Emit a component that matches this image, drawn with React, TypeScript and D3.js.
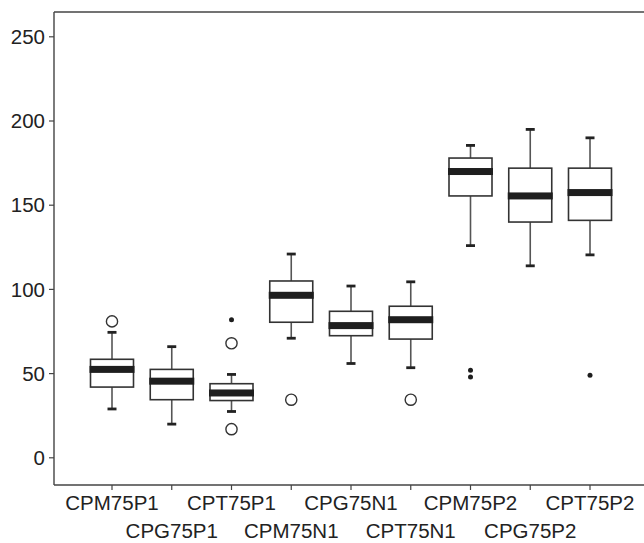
import React from 'react';
import * as d3 from 'd3';

// groups, in plotting order
const categories = ['CPM75P1', 'CPG75P1', 'CPT75P1', 'CPM75N1', 'CPG75N1', 'CPT75N1', 'CPM75P2', 'CPG75P2', 'CPT75P2'];

// five-number summaries
const lowerWhisker = [29, 20, 27.5, 71, 56, 53.5, 126, 114, 120.5];
const q1 = [42, 34.5, 34, 80.5, 72.5, 70.5, 155.5, 140, 141];
const medians = [52.5, 45.5, 38.5, 96.5, 78.5, 82, 170, 155.5, 157.5];
const q3 = [58.5, 52.5, 44, 105, 87, 90, 178, 172, 172];
const upperWhisker = [74.5, 66, 49.5, 121, 102, 104.5, 185.5, 195, 190];

// outliers: open circles and small filled dots
const openOutliers = [[81], [], [68, 17], [34.5], [], [34.5], [], [], []];
const dotOutliers = [[], [], [82], [], [], [], [52, 48], [], [49]];

const yTicks = [0, 50, 100, 150, 200, 250];

const W = 644;
const H = 543;
const left = 54;
const top = 12;
const bottom = 485;

const App = () => {
  const x = d3.scalePoint<string>().domain(categories).range([112, 590]);
  const y = d3.scaleLinear().domain([0, 250]).range([457.8, 36.8]);

  const boxW = 43;
  const capW = 9;
  const font = '"Liberation Sans", Arial, Helvetica, sans-serif';

  return (
    <svg width={W} height={H} style={{ position: 'absolute', left: 0, top: 0, background: '#fff' }}>
      {/* frame */}
      <line x1={left} x2={W} y1={top} y2={top} stroke="#444" strokeWidth={1.4} />
      <line x1={left} x2={W} y1={bottom} y2={bottom} stroke="#444" strokeWidth={1.4} />
      <line x1={left} x2={left} y1={top} y2={bottom} stroke="#444" strokeWidth={1.4} />

      {/* y axis */}
      {yTicks.map(t => (
        <g key={t}>
          <line x1={left - 5} x2={left} y1={y(t)} y2={y(t)} stroke="#444" strokeWidth={1.2} />
          <text x={45} y={y(t)} dy="0.35em" textAnchor="end" fontFamily={font} fontSize={20.5} fill="#222">
            {t}
          </text>
        </g>
      ))}

      {/* x axis, labels alternate between two rows */}
      {categories.map((c, i) => (
        <g key={c}>
          <line x1={x(c)} x2={x(c)} y1={bottom} y2={bottom + 5} stroke="#444" strokeWidth={1.2} />
          <text x={x(c)} y={i % 2 === 0 ? 510 : 538} textAnchor="middle" fontFamily={font} fontSize={20.5} fill="#222">
            {c}
          </text>
        </g>
      ))}

      {/* boxes */}
      {categories.map((c, i) => {
        const cx = x(c) as number;
        return (
          <g key={c}>
            <line x1={cx} x2={cx} y1={y(q3[i])} y2={y(upperWhisker[i])} stroke="#555" strokeWidth={1.6} />
            <line x1={cx} x2={cx} y1={y(q1[i])} y2={y(lowerWhisker[i])} stroke="#555" strokeWidth={1.6} />
            <line x1={cx - capW / 2} x2={cx + capW / 2} y1={y(upperWhisker[i])} y2={y(upperWhisker[i])} stroke="#222" strokeWidth={2.8} />
            <line x1={cx - capW / 2} x2={cx + capW / 2} y1={y(lowerWhisker[i])} y2={y(lowerWhisker[i])} stroke="#222" strokeWidth={2.8} />
            <rect
              x={cx - boxW / 2}
              y={y(q3[i])}
              width={boxW}
              height={y(q1[i]) - y(q3[i])}
              fill="#fff"
              stroke="#333"
              strokeWidth={1.6}
            />
            <rect x={cx - boxW / 2 - 1} y={y(medians[i]) - 3.5} width={boxW + 2} height={7} fill="#1e1e1e" />
            {openOutliers[i].map((v, k) => (
              <circle key={'o' + k} cx={cx} cy={y(v)} r={5.6} fill="none" stroke="#333" strokeWidth={1.4} />
            ))}
            {dotOutliers[i].map((v, k) => (
              <circle key={'d' + k} cx={cx} cy={y(v)} r={2.5} fill="#1e1e1e" />
            ))}
          </g>
        );
      })}
    </svg>
  );
};

export default App;
